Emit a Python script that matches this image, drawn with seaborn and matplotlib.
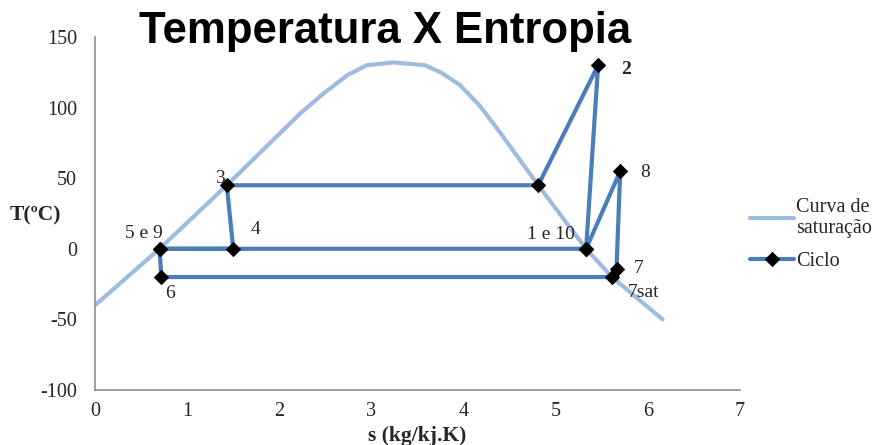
import numpy as np
import pandas as pd
import matplotlib.pyplot as plt
import seaborn as sns

sns.set_style("white")
plt.rcParams['font.family'] = ['Liberation Serif', 'DejaVu Serif']
plt.rcParams['axes.unicode_minus'] = False

# saturation dome (s, T)
sat_s = [0.00, 0.70, 1.43, 2.23, 2.48, 2.74, 2.95, 3.24, 3.58, 3.75, 3.96, 4.18, 4.40, 4.61, 4.81, 5.33, 5.61, 6.16]
sat_T = [-40, 0, 45, 96, 110, 123, 130, 132, 130, 125, 116, 101, 82, 63, 45, 0, -20, -50]

# cycle points, in drawing order
cyc_names = ['1 e 10', '2', '', '3', '4', '5 e 9', '6', '7sat', '7', '8', '1 e 10', '5 e 9']
cyc_s = [5.33, 5.46, 4.81, 1.43, 1.50, 0.70, 0.72, 5.61, 5.66, 5.70, 5.33, 0.70]
cyc_T = [0, 130, 45, 45, 0, 0, -20, -20, -14, 55, 0, 0]

# label offsets in points
label_pos = {
    '1 e 10': (-25, 10), '2': (20, -3), '3': (-5, 5), '4': (16, 14),
    '5 e 9': (-11, 11), '6': (6, -12), '7sat': (23, -11), '7': (16, 0), '8': (18, -1),
}

sat = pd.DataFrame({'s': sat_s, 'T': sat_T})
cyc = pd.DataFrame({'s': cyc_s, 'T': cyc_T})

fig = plt.figure(figsize=(8.75, 4.45), dpi=100)
ax = fig.add_axes([0.1086, 0.1236, 0.7371, 0.7933])

sns.lineplot(data=sat, x='s', y='T', sort=False, estimator=None, ax=ax,
             color='#9DBCE0', linewidth=3, label='Curva de\nsaturação')
sns.lineplot(data=cyc, x='s', y='T', sort=False, estimator=None, ax=ax,
             color='#4A7EBB', linewidth=3, marker='D', markersize=7,
             markerfacecolor='black', markeredgecolor='black', label='Ciclo')

done = set()
for name, s, t in zip(cyc_names, cyc_s, cyc_T):
    if not name or name in done:
        continue
    done.add(name)
    ax.annotate(name, (s, t), xytext=label_pos[name], textcoords='offset points',
                fontsize=14, ha='center', va='center',
                fontweight='bold' if name == '2' else 'normal')

ax.set_xlim(0, 7)
ax.set_ylim(-100, 150)
ax.set_xticks(range(0, 8))
ax.set_yticks(range(-100, 151, 50))
ax.tick_params(length=0, labelsize=14.5)
ax.tick_params(axis='x', pad=9)
ax.tick_params(axis='y', pad=13)
for side in ['top', 'right']:
    ax.spines[side].set_visible(False)
for side in ['left', 'bottom']:
    ax.spines[side].set_color('#8c8c8c')
    ax.spines[side].set_linewidth(1.2)

ax.set_xlabel('s (kg/kj.K)', fontsize=15.5, fontweight='bold', labelpad=3)
ax.set_ylabel('')
fig.text(0.011, 0.515, 'T(ºC)', fontsize=15.5, fontweight='bold', va='center')

fig.text(0.44, 0.93, 'Temperatura X Entropia', fontsize=31.5, fontweight='bold',
         ha='center', va='center', color='black',
         family=['Liberation Sans', 'DejaVu Sans'])

ax.get_legend().remove()
handles, labels = ax.get_legend_handles_labels()
fig.legend(handles, labels, loc='upper left', bbox_to_anchor=(0.857, 0.556),
           frameon=False, fontsize=14.5, handlelength=2.2, handletextpad=0.1,
           labelspacing=0.65, borderaxespad=0, borderpad=0)

fig.savefig('out.png', dpi=100)
